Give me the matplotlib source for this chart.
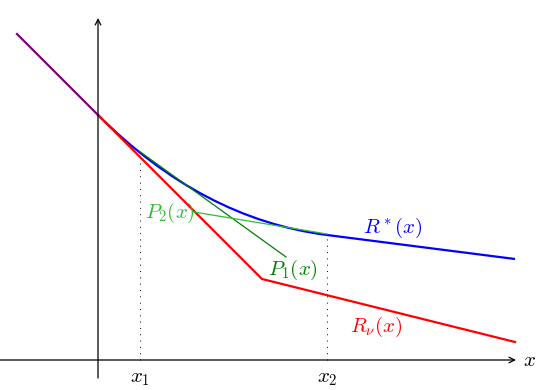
import matplotlib.pyplot as plt
from matplotlib.path import Path
from matplotlib.patches import PathPatch

plt.rcParams['mathtext.fontset'] = 'cm'

# points (units: 40 px, origin where the axes cross)
shared_x = [-2.025, 0.0]
shared_y = [8.15, 6.125]

red_x = [0.0, 4.1, 10.425]
red_y = [6.125, 2.025, 0.45]

# blue: curve (start, control, end) then straight
blue_curve = [(0.0, 6.125), (2.6, 3.525), (5.725, 3.125)]
blue_tail = (10.425, 2.525)

p1_x = [1.025, 4.7]
p1_y = [5.225, 2.575]
p2_x = [2.4, 5.725]
p2_y = [3.7, 3.15]

x1, x2 = 1.05, 5.725
x1_top, x2_top = 5.125, 3.1

fig = plt.figure(figsize=(5.45, 3.9), dpi=100)
ax = fig.add_axes([0, 0, 1, 1])
ax.set_xlim(-2.45, 11.175)
ax.set_ylim(-0.75, 9.0)
ax.axis('off')

# axes with arrows
ax.annotate('', xy=(10.45, 0), xytext=(-2.45, 0),
            arrowprops=dict(arrowstyle='->', lw=0.9, color='black', shrinkA=0, shrinkB=0))
ax.annotate('', xy=(0, 8.55), xytext=(0, -0.45),
            arrowprops=dict(arrowstyle='->', lw=0.9, color='black', shrinkA=0, shrinkB=0))

# dotted guides
ax.plot([x1, x1], [0, x1_top], color='black', lw=0.7, ls=(0, (1, 5.5)))
ax.plot([x2, x2], [0, x2_top], color='black', lw=0.7, ls=(0, (1, 5.5)))

ax.plot(red_x, red_y, color='red', lw=1.6, solid_joinstyle='miter')

verts = blue_curve + [blue_tail]
codes = [Path.MOVETO, Path.CURVE3, Path.CURVE3, Path.LINETO]
ax.add_patch(PathPatch(Path(verts, codes), fill=False, edgecolor='blue', lw=1.6))

ax.plot(shared_x, shared_y, color='#800080', lw=1.6)

ax.plot(p1_x, p1_y, color='#008000', lw=0.9)
ax.plot(p2_x, p2_y, color='#33bb33', lw=0.9)

fs = 15
ax.text(1.8, 3.675, r'$P_2(x)$', color='#33bb33', fontsize=fs, ha='center', va='center')
ax.text(4.875, 2.25, r'$P_1(x)$', color='#008000', fontsize=fs, ha='center', va='center')
ax.text(7.375, 3.3, r'$R^*(x)$', color='blue', fontsize=fs, ha='center', va='center')
ax.text(6.95, 0.825, r'$R_\nu(x)$', color='red', fontsize=fs, ha='center', va='center')
ax.text(x1, -0.45, r'$x_1$', fontsize=fs, ha='center', va='center')
ax.text(x2, -0.45, r'$x_2$', fontsize=fs, ha='center', va='center')
ax.text(10.62, 0, r'$x$', fontsize=fs, ha='left', va='center')

fig.savefig('out.png', dpi=100)
